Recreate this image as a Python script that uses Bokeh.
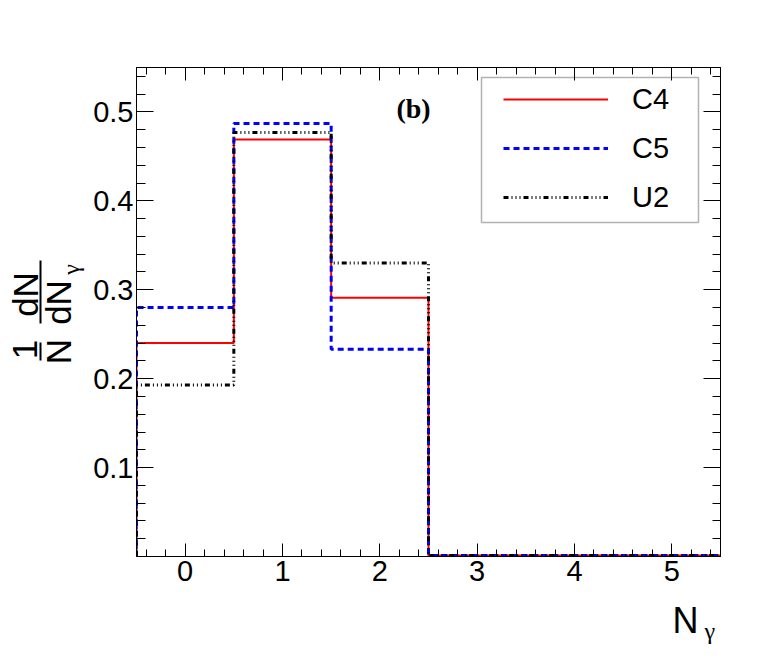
import numpy as np
from bokeh.plotting import figure
from bokeh.layouts import row, column
from bokeh.models import (Range1d, FixedTicker, LinearAxis, Label, BoxAnnotation,
                          CustomJSTickFormatter)
from bokeh.core.properties import value
from bokeh.embed import file_html
from bokeh.resources import INLINE

# ---------------- data ----------------
bin_centers = [0, 1, 2, 3, 4, 5]
c4_values = [0.240, 0.469, 0.291, 0.001, 0.001, 0.001]
c5_values = [0.280, 0.487, 0.233, 0.001, 0.001, 0.001]
u2_values = [0.193, 0.477, 0.330, 0.001, 0.001, 0.001]
series_names = ["C4", "C5", "U2"]
x_tick_values = [0, 1, 2, 3, 4, 5]
y_tick_values = [0.1, 0.2, 0.3, 0.4, 0.5]

# ---------------- layout (page pixels) ----------------
X0, X1 = -0.5, 5.5
Y0, Y1 = 0.0, 0.55
FL, FR, FT, FB = 136, 720, 67, 556   # plot frame
TOTAL_W = 770
LEFT_W = 90
MAIN_H = 600
BOTTOM_H = 55
MAIN_W = TOTAL_W - LEFT_W


def px_x(px):
    return X0 + (px - FL) * (X1 - X0) / (FR - FL)


def px_y(py):
    return Y1 - (py - FT) * (Y1 - Y0) / (FB - FT)


p = figure(width=MAIN_W, height=MAIN_H, output_backend="svg", toolbar_location=None,
           x_range=Range1d(X0, X1), y_range=Range1d(Y0, Y1),
           min_border_left=FL - LEFT_W, min_border_right=TOTAL_W - FR,
           min_border_top=FT, min_border_bottom=MAIN_H - FB,
           x_axis_location=None, y_axis_location=None)
p.frame_align = False
p.grid.visible = False
p.outline_line_color = "black"
p.outline_line_width = 1
p.background_fill_color = "white"
p.border_fill_color = "white"

x_minor = [round(v, 2) for v in np.arange(-0.4, 5.5, 0.2)]
y_minor = [round(v, 2) for v in np.arange(0.02, 0.55, 0.02)]


def make_axis(ticks, minor, maj, mnr, labels):
    ax = LinearAxis(ticker=FixedTicker(ticks=ticks, minor_ticks=minor))
    ax.major_tick_in = maj
    ax.major_tick_out = 0
    ax.minor_tick_in = mnr
    ax.minor_tick_out = 0
    ax.axis_line_color = "black"
    ax.major_tick_line_color = "black"
    ax.minor_tick_line_color = "black"
    if labels:
        ax.major_label_text_font = "Liberation Sans"
        ax.major_label_text_font_size = "29px"
        ax.major_label_text_color = "black"
    else:
        ax.formatter = CustomJSTickFormatter(code="return ''")
        ax.major_label_text_font_size = "0px"
        ax.major_label_standoff = 0
    return ax


xb = make_axis(x_tick_values, x_minor, 13, 7, True)
xb.major_label_standoff = 4
yl = make_axis(y_tick_values, y_minor, 17, 9, True)
yl.major_label_standoff = 3
p.add_layout(xb, "below")
p.add_layout(yl, "left")
p.add_layout(make_axis(x_tick_values, x_minor, 13, 7, False), "above")
p.add_layout(make_axis(y_tick_values, y_minor, 17, 8, False), "right")


# ---------------- histograms ----------------
def hist_outline(centers, values):
    edges = [c - 0.5 for c in centers] + [centers[-1] + 0.5]
    xs = list(np.repeat(edges, 2))
    ys = [0.0] + list(np.repeat(values, 2)) + [0.0]
    return xs, ys


styles = [
    dict(line_color="#ff0000", line_width=2, line_dash="solid"),
    dict(line_color="#0000ff", line_width=3, line_dash="6 4"),
    dict(line_color="#000000", line_width=3, line_dash="5 3 1 3 1 3 1 3"),
]
for name, vals, st in zip(series_names, [c4_values, c5_values, u2_values], styles):
    xs, ys = hist_outline(bin_centers, vals)
    p.line(xs, ys, legend_label=name, **st)

# ---------------- legend ----------------
lg = p.legend[0]
lg.location = (503 - FL, FB - 217)
lg.glyph_width = 105
lg.glyph_height = 40
lg.label_height = 40
lg.label_standoff = 24
lg.spacing = 9
lg.padding = 0
lg.margin = 0
lg.border_line_color = None
lg.background_fill_alpha = 0
lg.label_text_font = "Liberation Sans"
lg.label_text_font_size = "29px"
lg.label_text_color = "black"

p.add_layout(BoxAnnotation(left=px_x(481), right=px_x(698), top=px_y(77), bottom=px_y(222),
                           fill_alpha=0, line_color="black", line_width=1.5))

p.add_layout(Label(x=px_x(413), y=px_y(108), text="(b)", text_align="center",
                   text_baseline="middle", text_font="Liberation Serif",
                   text_font_style="bold", text_font_size="28px", text_color="black"))


def strip(width, height):
    f = figure(width=width, height=height, output_backend="svg", toolbar_location=None,
               x_range=Range1d(0, width), y_range=Range1d(0, height), min_border=0,
               x_axis_location=None, y_axis_location=None)
    f.frame_align = False
    f.grid.visible = False
    f.outline_line_color = None
    f.background_fill_color = "white"
    f.border_fill_color = "white"
    return f


# ---------------- y title: 1/N dN/dN_gamma (rotated) ----------------
left = strip(LEFT_W, MAIN_H)


def ly(py):
    return MAIN_H - py


ROT = np.pi / 2
left.text(x=[24.5, 57.5, 24.5, 57.5], y=[ly(349), ly(351), ly(294), ly(302)],
          text=["1", "N", "dN", "dN"], angle=ROT, text_align="center",
          text_baseline="middle", text_font=value("Liberation Sans"),
          text_font_size=value("35px"), text_color="black")
left.text(x=[70], y=[ly(269)], text=["γ"], angle=ROT, text_align="center",
          text_baseline="middle", text_font=value("Liberation Serif"),
          text_font_size=value("24px"), text_color="black")
left.segment(x0=[40, 40], y0=[ly(342), ly(260)], x1=[40, 40], y1=[ly(360), ly(323)],
             line_width=2, line_color="black")

# ---------------- x title: N_gamma ----------------
bottom = strip(TOTAL_W, BOTTOM_H)


def by(py):
    return MAIN_H + BOTTOM_H - py


bottom.text(x=[672], y=[by(620)], text=["N"], text_align="left",
            text_baseline="middle", text_font=value("Liberation Sans"),
            text_font_size=value("36px"), text_color="black")
bottom.text(x=[704], y=[by(630)], text=["γ"], text_align="left",
            text_baseline="middle", text_font=value("Liberation Serif"),
            text_font_size=value("24px"), text_color="black")

layout = column(row(left, p), bottom)
open("out.html", "w").write(file_html(layout, INLINE))
